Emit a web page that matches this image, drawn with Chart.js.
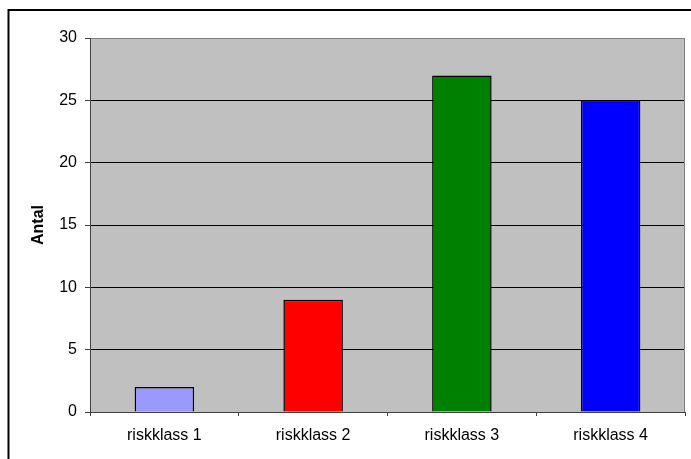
<!DOCTYPE html>
<html>
<head>
<meta charset="utf-8">
<title>Antal per riskklass</title>
<script src="https://cdn.jsdelivr.net/npm/chart.js@4/dist/chart.umd.min.js"></script>
<style>
  body { margin: 0; background: #fff; }
  canvas { display: block; }
</style>
</head>
<body>
<canvas id="chart" width="691" height="459"></canvas>
<script>
'use strict';
// data
const categories = ['riskklass 1', 'riskklass 2', 'riskklass 3', 'riskklass 4'];
const counts = [2, 9, 27, 25];
const barColors = ['#9999FF', '#FF0000', '#008000', '#0000FF'];
const yMax = 30;
const yStep = 5;

Chart.defaults.font.family = '"Liberation Sans", Arial, sans-serif';
Chart.defaults.font.size = 16;
Chart.defaults.color = '#000';

// white page, outer frame and grey plot area
const backdrop = {
  id: 'backdrop',
  beforeDraw(chart) {
    const ctx = chart.ctx;
    const a = chart.chartArea;
    ctx.save();
    ctx.fillStyle = '#fff';
    ctx.fillRect(0, 0, chart.width, chart.height);
    ctx.fillStyle = '#C0C0C0';
    ctx.fillRect(a.left, a.top, a.right - a.left, a.bottom - a.top);
    ctx.strokeStyle = '#000';
    ctx.lineWidth = 2;
    ctx.strokeRect(8.5, 10, 800, 600);
    ctx.restore();
  },
  afterDraw(chart) {
    const ctx = chart.ctx;
    const a = chart.chartArea;
    ctx.save();
    ctx.strokeStyle = '#808080';
    ctx.lineWidth = 1;
    ctx.beginPath();
    ctx.moveTo(a.right - 0.5, a.top);
    ctx.lineTo(a.right - 0.5, a.bottom);
    ctx.stroke();
    ctx.restore();
  }
};

const ctx = document.getElementById('chart').getContext('2d');
new Chart(ctx, {
  type: 'bar',
  data: {
    labels: categories,
    datasets: [{
      data: counts,
      backgroundColor: barColors,
      borderColor: '#000',
      borderWidth: 1.5,
      barPercentage: 0.4,
      categoryPercentage: 1.0
    }]
  },
  options: {
    responsive: false,
    animation: false,
    devicePixelRatio: 1,
    layout: { padding: { left: 20, top: 38, right: 6, bottom: 0 } },
    plugins: {
      legend: { display: false },
      tooltip: { enabled: false }
    },
    scales: {
      x: {
        grid: {
          offset: true,
          drawOnChartArea: false,
          tickLength: 4,
          tickColor: '#404040'
        },
        border: { color: '#404040' },
        ticks: { padding: 10 },
        afterFit(scale) { scale.height = 47; }
      },
      y: {
        min: 0,
        max: yMax,
        ticks: { stepSize: yStep, padding: 8 },
        grid: {
          color: (c) => (c.tick && c.tick.value === yMax ? '#808080' : '#000'),
          tickColor: '#404040',
          tickLength: 5
        },
        border: { color: '#404040' },
        title: {
          display: true,
          text: 'Antal',
          font: { weight: 'bold', size: 16 },
          padding: { top: 9, bottom: 0 }
        },
        afterFit(scale) { scale.width = 70; }
      }
    }
  },
  plugins: [backdrop]
});
</script>
</body>
</html>
